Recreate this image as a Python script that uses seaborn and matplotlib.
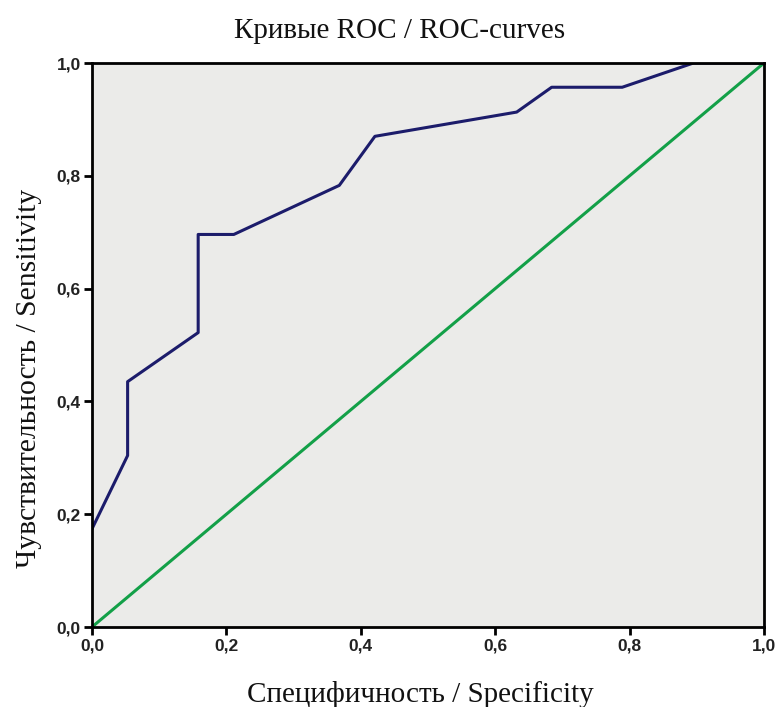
import matplotlib
matplotlib.use("Agg")
import matplotlib.pyplot as plt
import seaborn as sns
import pandas as pd
from matplotlib.ticker import FuncFormatter

# ROC curve points
roc_x = [0.0, 0.053, 0.053, 0.158, 0.158, 0.211, 0.368, 0.421, 0.632, 0.684, 0.789, 0.895, 1.0]
roc_y = [0.174, 0.304, 0.435, 0.522, 0.696, 0.696, 0.783, 0.870, 0.913, 0.957, 0.957, 1.0, 1.0]
# reference diagonal
diag_x = [0.0, 1.0]
diag_y = [0.0, 1.0]
ticks = [0.0, 0.2, 0.4, 0.6, 0.8, 1.0]

title = "Кривые ROC / ROC-curves"
xlabel = "Специфичность / Specificity"
ylabel = "Чувствительность / Sensitivity"

sns.set_theme(style="white")
plt.rcParams['font.family'] = ['Liberation Sans', 'DejaVu Sans']

fig = plt.figure(figsize=(7.78, 7.07), dpi=100)
ax = fig.add_axes([92 / 778, 80 / 707, 672 / 778, 564 / 707])
ax.set_facecolor("#ebebe9")

df_roc = pd.DataFrame({"x": roc_x, "y": roc_y})
df_diag = pd.DataFrame({"x": diag_x, "y": diag_y})
sns.lineplot(data=df_diag, x="x", y="y", sort=False, estimator=None,
             color="#13a048", lw=2.2, ax=ax)
sns.lineplot(data=df_roc, x="x", y="y", sort=False, estimator=None,
             color="#1c1c6b", lw=2.2, ax=ax)

ax.set_xlim(0, 1)
ax.set_ylim(0, 1)
ax.set_xticks(ticks)
ax.set_yticks(ticks)
fmt = FuncFormatter(lambda v, p: f"{v:.1f}".replace(".", ","))
ax.xaxis.set_major_formatter(fmt)
ax.yaxis.set_major_formatter(fmt)
ax.tick_params(axis="both", direction="out", length=6, width=2, color="black",
               labelsize=12.5, pad=2, bottom=True, left=True)
for lab in ax.get_xticklabels() + ax.get_yticklabels():
    lab.set_fontweight("bold")
    lab.set_color("#222222")

for s in ax.spines.values():
    s.set_visible(True)
    s.set_color("black")
    s.set_linewidth(2)

serif = ['Liberation Serif', 'DejaVu Serif']
ax.set_title(title, family=serif, fontsize=21, color="#111111", x=0.457, y=1.0, pad=18)
ax.set_xlabel(xlabel, family=serif, fontsize=21, color="#111111")
ax.set_ylabel(ylabel, family=serif, fontsize=21.3, color="#111111")
ax.xaxis.set_label_coords(0.488, -0.095)
ax.yaxis.set_label_coords(-0.074, 0.44)

fig.savefig("out.png", dpi=100, facecolor="white")
